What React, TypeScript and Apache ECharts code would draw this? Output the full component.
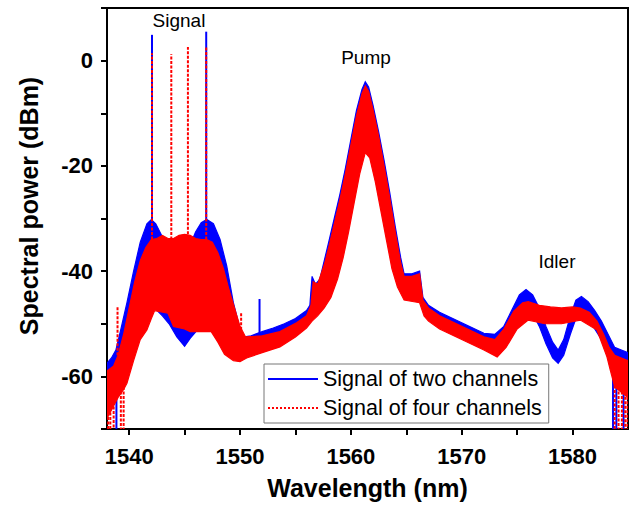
import React, { useEffect, useRef } from 'react';
import * as echarts from 'echarts';

// Axis ticks / labels
const xLabelValues = [1540, 1550, 1560, 1570, 1580];
const xTickValues = [1540, 1545, 1550, 1555, 1560, 1565, 1570, 1575, 1580];
const yLabelValues = [-60, -40, -20, 0];

const legendNames = ['Signal of two channels', 'Signal of four channels'];

// Signal of two channels (blue): upper and lower envelopes of the dense trace
const twoUpperX = [1538.0, 1538.4, 1538.8, 1539.2, 1539.8, 1540.4, 1541.0, 1541.6, 1542.0, 1542.4, 1543.0, 1543.6, 1544.5, 1545.4, 1546.0, 1546.5, 1547.0, 1547.6, 1548.2, 1548.8, 1549.4, 1550.0, 1550.4, 1551.0, 1552.0, 1553.0, 1554.0, 1555.0, 1556.0, 1556.3, 1556.5, 1556.8, 1557.2, 1557.6, 1558.0, 1558.5, 1559.0, 1559.5, 1560.0, 1560.5, 1561.0, 1561.3, 1561.6, 1562.0, 1562.5, 1563.0, 1563.5, 1564.0, 1564.5, 1564.8, 1565.5, 1566.2, 1566.5, 1567.0, 1568.0, 1569.0, 1570.0, 1571.0, 1572.0, 1573.0, 1573.8, 1574.5, 1575.2, 1575.8, 1576.4, 1577.0, 1577.6, 1578.2, 1578.7, 1579.2, 1579.8, 1580.3, 1580.8, 1581.4, 1582.0, 1582.6, 1583.2, 1583.8, 1584.4, 1585.0];
const twoUpperY = [-57.5, -56.5, -55, -51.5, -46, -40, -34.5, -31, -30.2, -31, -33.5, -35.5, -36, -35.5, -32.5, -30.8, -30.2, -31, -34, -39, -46, -51, -52.5, -52.3, -51.5, -50.8, -50, -49, -47.5, -46.5, -41, -42.5, -41.5, -38, -34.5, -30, -25.5, -20.5, -15, -9.5, -5.5, -4, -5, -8.5, -13.5, -19, -25, -31.5, -37.5, -40.5, -40.5, -40, -45, -46.5, -47.8, -48.8, -49.8, -50.8, -51.8, -52, -50.5, -47.5, -44.5, -43.5, -44.5, -47, -50.5, -53.5, -55, -53, -48.5, -45.5, -44.8, -45.8, -47.5, -49.5, -52, -54.5, -55, -55.5];
const twoLowerX = [1538.0, 1538.5, 1539.0, 1539.6, 1540.2, 1540.8, 1541.4, 1542.0, 1542.3, 1543.0, 1543.6, 1544.3, 1545.0, 1545.5, 1546.1, 1546.6, 1547.2, 1548.0, 1549.0, 1550.0, 1550.5, 1552.0, 1554.0, 1555.5, 1556.3, 1557.0, 1557.6, 1558.2, 1558.8, 1559.3, 1559.8, 1560.3, 1560.8, 1561.3, 1561.7, 1562.2, 1562.7, 1563.2, 1563.7, 1564.2, 1564.8, 1566.2, 1566.6, 1567.0, 1568.0, 1570.0, 1572.0, 1573.0, 1573.8, 1574.5, 1575.2, 1575.8, 1576.4, 1577.0, 1577.6, 1578.2, 1578.7, 1579.2, 1579.8, 1580.3, 1580.8, 1581.4, 1582.0, 1582.6, 1583.2, 1583.6, 1584.2, 1585.0];
const twoLowerY = [-60, -61, -61, -57, -53.5, -50.5, -48, -46.5, -47, -48.5, -50, -52.5, -54.3, -52.8, -51.3, -51, -50.5, -51, -52, -53, -54, -53.5, -52, -50.5, -49, -47.5, -46, -44, -40.5, -36.5, -31.5, -26, -20.5, -16.5, -17.5, -22, -27.5, -33, -38.5, -42, -44.5, -45, -47.5, -48.5, -49.8, -51.8, -53.8, -54.5, -53, -50.5, -47.8, -47, -48, -50.5, -53.8, -56.5, -57.5, -56, -52, -49, -48, -49, -51, -53, -56, -59, -61, -62];

// Signal of four channels (red): upper and lower envelopes
const fourUpperX = [1538.0, 1538.6, 1539.0, 1539.5, 1540.0, 1540.5, 1541.0, 1541.5, 1542.0, 1542.5, 1543.0, 1543.5, 1544.0, 1544.5, 1545.0, 1545.5, 1546.0, 1546.5, 1547.0, 1547.5, 1548.0, 1548.5, 1549.0, 1549.5, 1550.0, 1550.5, 1552.0, 1553.6, 1555.1, 1556.0, 1556.4, 1556.6, 1557.0, 1557.6, 1558.0, 1558.5, 1559.0, 1559.5, 1560.0, 1560.5, 1561.0, 1561.3, 1561.6, 1562.0, 1562.5, 1563.0, 1563.5, 1564.0, 1564.5, 1564.8, 1565.5, 1566.2, 1566.5, 1567.0, 1568.0, 1570.0, 1572.0, 1573.0, 1573.8, 1574.7, 1575.5, 1576.0, 1577.0, 1578.0, 1579.0, 1580.0, 1580.7, 1581.5, 1582.2, 1582.8, 1583.3, 1583.8, 1584.4, 1585.0];
const fourUpperY = [-59, -58, -56, -52, -47, -42, -38, -35.5, -34, -33.8, -33.2, -33.8, -33.8, -33.2, -33, -33.2, -33.8, -34, -34, -34.5, -36.5, -39.5, -43.5, -47, -50.5, -52.5, -52.3, -51.5, -49.8, -48.5, -46.5, -42, -42.5, -38.8, -35.5, -31, -26.5, -21.5, -16, -10.5, -6.3, -4.8, -5.8, -9.3, -14.3, -20, -26, -32.5, -38.5, -41, -41, -40.5, -45.5, -47, -48.5, -50.5, -52.5, -53, -51, -47.6, -46, -45.8, -46.5, -46.8, -47, -46.8, -47, -47.8, -49.5, -52, -54.5, -56, -56.5, -57];
const fourLowerX = [1538.0, 1538.5, 1539.0, 1539.5, 1539.8, 1540.4, 1541.0, 1541.6, 1542.0, 1542.3, 1543.5, 1544.0, 1545.0, 1545.5, 1547.0, 1547.4, 1548.0, 1548.6, 1549.4, 1550.0, 1550.6, 1552.0, 1553.6, 1555.0, 1556.0, 1556.5, 1557.0, 1557.6, 1558.2, 1558.8, 1559.3, 1559.8, 1560.3, 1560.8, 1561.3, 1561.7, 1562.2, 1562.7, 1563.2, 1563.7, 1564.2, 1564.8, 1566.2, 1566.6, 1567.0, 1568.0, 1570.0, 1572.0, 1573.2, 1574.0, 1575.0, 1576.0, 1577.5, 1579.0, 1580.7, 1582.2, 1583.1, 1583.4, 1583.8, 1584.4, 1585.0];
const fourLowerY = [-68, -66, -64, -62.5, -61.3, -57, -53, -51.2, -49, -47.5, -48, -50.5, -51, -51.5, -51.5, -51.5, -53.5, -55.8, -57, -57.2, -56.5, -55.5, -54.4, -52.5, -50.8, -49.5, -48.5, -47, -45, -41.5, -37.5, -32.5, -27, -21.5, -17.5, -18.5, -23, -28.5, -34, -39.5, -43, -45.5, -46, -48.5, -49.5, -51, -53, -55, -56.3, -54.5, -51, -49.3, -50, -50, -49.3, -51.2, -56.3, -58.8, -62, -63, -64];

// Narrow spectral lines and deep noise dips: [wavelength, from, to]
const twoSpikes = [
  [1538.85, -60, -70],
  [1542.06, -31, 4.9],
  [1546.95, -31, 5.5],
  [1551.76, -52, -45.3],
  [1583.65, -58, -70],
  [1583.95, -60, -70],
  [1584.6, -61, -70],
];
const fourSpikes = [
  [1538.1, -66, -70],
  [1538.3, -66, -70],
  [1538.6, -64, -70],
  [1538.95, -56, -46.8],
  [1539.25, -62, -70],
  [1539.5, -62, -70],
  [1542.06, -34, 1.4],
  [1543.8, -34, 1.2],
  [1545.3, -33, 2.6],
  [1546.95, -34, 2.7],
  [1550.1, -52, -48],
  [1583.8, -60, -70],
  [1584.15, -62, -70],
  [1584.45, -62, -70],
  [1584.75, -63, -70],
  [1584.95, -63, -70],
];

const BLUE = '#0000ff';
const RED = '#ff0000';
const FONT = '"Liberation Sans", Arial, sans-serif';

function bandSeries(xu: number[], yu: number[], xl: number[], yl: number[], color: string, z: number) {
  return {
    type: 'custom',
    coordinateSystem: 'cartesian2d',
    silent: true,
    z,
    clip: true,
    data: [[xu[0], yu[0]]],
    encode: { x: 0, y: 1 },
    renderItem: (_params: any, api: any) => {
      const pts: number[][] = [];
      for (let i = 0; i < xu.length; i++) pts.push(api.coord([xu[i], yu[i]]));
      for (let i = xl.length - 1; i >= 0; i--) pts.push(api.coord([xl[i], yl[i]]));
      return {
        type: 'polygon',
        shape: { points: pts },
        style: { fill: color, stroke: color, lineWidth: 1.2 },
      };
    },
  };
}

function spikeSeries(spikes: number[][], color: string, dash: number[] | null, z: number) {
  return {
    type: 'custom',
    coordinateSystem: 'cartesian2d',
    silent: true,
    z,
    clip: true,
    data: spikes,
    encode: { x: 0, y: [1, 2] },
    renderItem: (_params: any, api: any) => {
      const a = api.coord([api.value(0), api.value(1)]);
      const b = api.coord([api.value(0), api.value(2)]);
      return {
        type: 'line',
        shape: { x1: a[0], y1: a[1], x2: b[0], y2: b[1] },
        style: { stroke: color, lineWidth: 2, lineDash: dash || undefined },
      };
    },
  };
}

export default function App() {
  const ref = useRef<HTMLDivElement>(null);
  useEffect(() => {
    if (!ref.current) return;
    const chart = echarts.init(ref.current, null, { renderer: 'svg' });
    const option: any = {
      animation: false,
      backgroundColor: '#ffffff',
      grid: {
        left: 107,
        right: 4,
        top: 8,
        bottom: 83,
        show: true,
        borderColor: '#000',
        borderWidth: 2,
        backgroundColor: 'transparent',
      },
      legend: {
        data: legendNames,
        orient: 'vertical',
        left: 264,
        top: 364,
        padding: [4, 7, 4, 3],
        itemGap: 7,
        itemWidth: 50,
        itemHeight: 14,
        itemStyle: { opacity: 0 },
        borderColor: '#777',
        borderWidth: 1,
        backgroundColor: '#fff',
        textStyle: { fontSize: 21.5, color: '#000', fontFamily: FONT },
        z: 20,
      },
      xAxis: {
        type: 'value',
        min: 1538,
        max: 1585,
        name: 'Wavelength (nm)',
        nameLocation: 'middle',
        nameGap: 46,
        nameTextStyle: { fontSize: 25, fontWeight: 'bold', color: '#000', fontFamily: FONT },
        axisLine: { show: true, onZero: false, lineStyle: { color: '#000', width: 2 } },
        axisTick: { show: true, length: 6, customValues: xTickValues, lineStyle: { color: '#000', width: 2 } },
        axisLabel: {
          customValues: xLabelValues,
          fontSize: 22,
          fontWeight: 'bold',
          color: '#000',
          fontFamily: FONT,
          margin: 16,
          formatter: (v: number) => String(v),
        },
        splitLine: { show: false },
      },
      yAxis: {
        type: 'value',
        min: -70,
        max: 10,
        interval: 10,
        axisLine: { show: true, onZero: false, lineStyle: { color: '#000', width: 2 } },
        axisTick: { show: true, length: 6, lineStyle: { color: '#000', width: 2 } },
        axisLabel: {
          fontSize: 22,
          fontWeight: 'bold',
          color: '#000',
          fontFamily: FONT,
          margin: 14,
          formatter: (v: number) => (yLabelValues.indexOf(v) >= 0 ? String(v) : ''),
        },
        splitLine: { show: false },
      },
      graphic: [
        {
          type: 'text',
          x: 29,
          y: 206,
          rotation: Math.PI / 2,
          style: {
            text: 'Spectral power (dBm)',
            fontSize: 25,
            fontWeight: 'bold',
            fontFamily: FONT,
            fill: '#000',
            textAlign: 'center',
            textVerticalAlign: 'middle',
          },
        },
        {
          type: 'text', x: 179, y: 20,
          style: { text: 'Signal', fontSize: 19, fontFamily: FONT, fill: '#000', textAlign: 'center', textVerticalAlign: 'middle' },
        },
        {
          type: 'text', x: 366, y: 57,
          style: { text: 'Pump', fontSize: 19, fontFamily: FONT, fill: '#000', textAlign: 'center', textVerticalAlign: 'middle' },
        },
        {
          type: 'text', x: 557, y: 261,
          style: { text: 'Idler', fontSize: 19, fontFamily: FONT, fill: '#000', textAlign: 'center', textVerticalAlign: 'middle' },
        },
      ],
      series: [
        bandSeries(twoUpperX, twoUpperY, twoLowerX, twoLowerY, BLUE, 2),
        spikeSeries(twoSpikes, BLUE, null, 3),
        bandSeries(fourUpperX, fourUpperY, fourLowerX, fourLowerY, RED, 4),
        spikeSeries(fourSpikes, RED, [3, 1.5], 5),
        {
          name: legendNames[0],
          type: 'line',
          data: [],
          symbol: 'none',
          lineStyle: { color: BLUE, width: 2.5 },
          itemStyle: { color: BLUE },
        },
        {
          name: legendNames[1],
          type: 'line',
          data: [],
          symbol: 'none',
          lineStyle: { color: RED, width: 2, type: 'dotted' },
          itemStyle: { color: RED },
        },
      ],
    };
    chart.setOption(option);
    return () => chart.dispose();
  }, []);
  return (
    <div
      ref={ref}
      style={{ position: 'fixed', left: 0, top: 0, width: 632, height: 512, background: '#fff' }}
    />
  );
}
